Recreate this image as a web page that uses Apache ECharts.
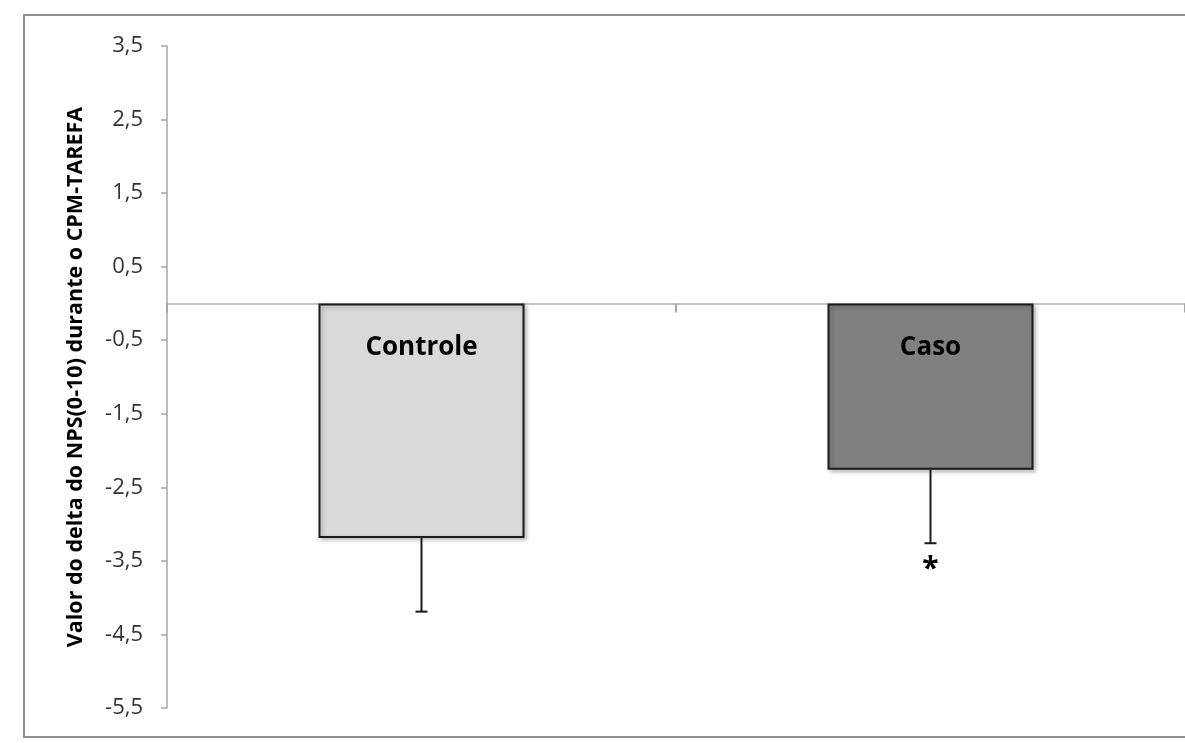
<!DOCTYPE html>
<html>
<head>
<meta charset="utf-8">
<script src="https://cdn.jsdelivr.net/npm/echarts@6/dist/echarts.min.js"></script>
<style>
  html, body { margin: 0; padding: 0; background: #fff; }
  #chart { width: 1185px; height: 743px; }
</style>
</head>
<body>
<div id="chart"></div>
<script>
// Groups and mean change of NPS (0-10) during CPM-task, with lower error (SD)
const categories = ['Controle', 'Caso'];
const means = [-3.19, -2.26];
const errors = [1.0, 1.0];
const barColors = ['#d9d9d9', '#808080'];
const marks = ['', '*'];
const yTicks = { min: -5.5, max: 3.5, interval: 1 };
const yTitle = 'Valor do delta do NPS(0-10) durante o CPM-TAREFA';

const FONT = '"Open Sans", "Noto Sans", sans-serif';

const chart = echarts.init(document.getElementById('chart'), null, { renderer: 'canvas' });

chart.setOption({
  animation: false,
  backgroundColor: '#ffffff',
  graphic: [{
    type: 'rect',
    z: -10,
    shape: { x: 24, y: 15, width: 1200, height: 722 },
    style: { fill: 'none', stroke: '#8f8f8f', lineWidth: 2 }
  }],
  grid: { left: 167, top: 46, width: 1028, height: 662, containLabel: false },
  xAxis: {
    type: 'category',
    data: categories,
    axisLine: { onZero: true, lineStyle: { color: '#b3b3b3', width: 1.5 } },
    axisTick: { show: true, length: 9, inside: false, lineStyle: { color: '#a6a6a6', width: 2 } },
    axisLabel: { show: false },
    splitLine: { show: false }
  },
  yAxis: {
    type: 'value',
    min: yTicks.min,
    max: yTicks.max,
    interval: yTicks.interval,
    name: yTitle,
    nameLocation: 'middle',
    nameGap: 80,
    nameTextStyle: { fontFamily: FONT, fontSize: 21.5, fontWeight: 'bold', color: '#000' },
    axisLine: { show: true, lineStyle: { color: '#a6a6a6', width: 1.5 } },
    axisTick: { show: true, length: 6, lineStyle: { color: '#a6a6a6', width: 1.5 } },
    splitLine: { show: false },
    axisLabel: {
      margin: 24,
      fontFamily: FONT,
      fontSize: 22,
      color: '#333',
      formatter: v => v.toFixed(1).replace('.', ',')
    }
  },
  series: [
    {
      type: 'bar',
      barWidth: 206,
      data: means.map((v, i) => ({
        value: v,
        itemStyle: {
          color: barColors[i],
          borderColor: '#1a1a1a',
          borderWidth: 2,
          shadowColor: 'rgba(0,0,0,0.25)',
          shadowBlur: 4,
          shadowOffsetX: 2,
          shadowOffsetY: 2
        }
      })),
      z: 2
    },
    {
      type: 'custom',
      z: 3,
      data: means.map((v, i) => [i, v, errors[i]]),
      renderItem: function (params, api) {
        const i = api.value(0);
        const m = api.value(1);
        const e = api.value(2);
        const top = api.coord([i, m]);
        const bot = api.coord([i, m - e]);
        const zero = api.coord([i, 0]);
        const cap = 6;
        const children = [
          { type: 'line', shape: { x1: top[0], y1: top[1], x2: bot[0], y2: bot[1] },
            style: { stroke: '#1a1a1a', lineWidth: 2 } },
          { type: 'line', shape: { x1: bot[0] - cap, y1: bot[1], x2: bot[0] + cap, y2: bot[1] },
            style: { stroke: '#1a1a1a', lineWidth: 2 } },
          { type: 'text', x: zero[0], y: zero[1] + 44,
            style: { text: categories[i], fontFamily: FONT, fontSize: 26, fontWeight: 'bold',
                     fill: '#000', align: 'center', verticalAlign: 'middle' } }
        ];
        if (marks[i]) {
          children.push({ type: 'text', x: bot[0], y: bot[1] + 26,
            style: { text: marks[i], fontFamily: FONT, fontSize: 30, fontWeight: 'bold',
                     fill: '#000', align: 'center', verticalAlign: 'middle' } });
        }
        return { type: 'group', children: children };
      }
    }
  ]
});
</script>
</body>
</html>
